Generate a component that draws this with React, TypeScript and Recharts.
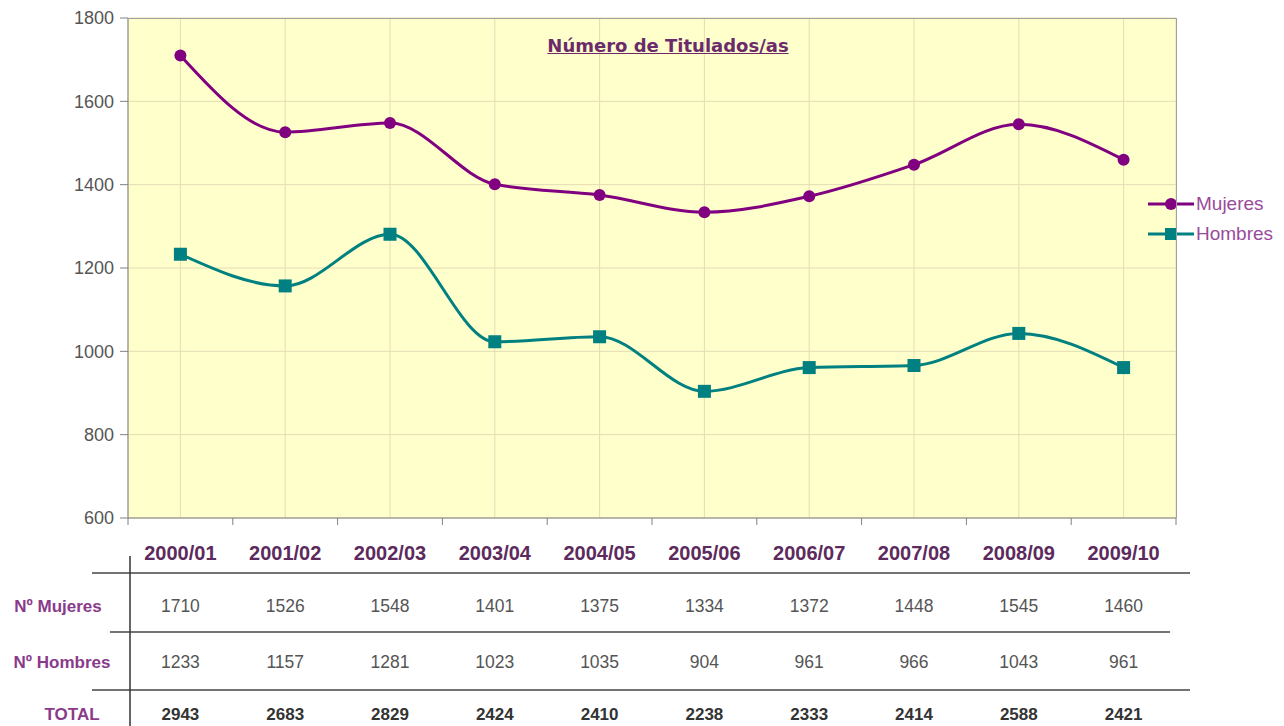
import { LineChart, Line, XAxis, YAxis, CartesianGrid } from "recharts";

const cursos = ["2000/01", "2001/02", "2002/03", "2003/04", "2004/05", "2005/06", "2006/07", "2007/08", "2008/09", "2009/10"];
const mujeres = [1710, 1526, 1548, 1401, 1375, 1334, 1372, 1448, 1545, 1460];
const hombres = [1233, 1157, 1281, 1023, 1035, 904, 961, 966, 1043, 961];
const totales = [2943, 2683, 2829, 2424, 2410, 2238, 2333, 2414, 2588, 2421];
const yTicks = [600, 800, 1000, 1200, 1400, 1600, 1800];

const data = cursos.map((c, i) => ({ curso: c, Mujeres: mujeres[i], Hombres: hombres[i], total: totales[i] }));

const PURPLE = "#800080";
const TEAL = "#008080";
const FONT = "'Liberation Sans', Arial, sans-serif";
const HALF_BAND = 52.4;

function CursoTick(props: any) {
  const { x, y, index, payload } = props;
  const d = data[index];
  return (
    <g fontFamily={FONT}>
      <line x1={x - HALF_BAND} x2={x - HALF_BAND} y1={y} y2={y + 7} stroke="#808080" />
      {index === cursos.length - 1 && (
        <line x1={x + HALF_BAND} x2={x + HALF_BAND} y1={y} y2={y + 7} stroke="#808080" />
      )}
      <text x={x} y={y + 42} textAnchor="middle" fontSize={20} fontWeight="bold" fill="#5c2a5c">
        {payload.value}
      </text>
      <text x={x} y={y + 94} textAnchor="middle" fontSize={17.5} fill="#555">{d.Mujeres}</text>
      <text x={x} y={y + 150} textAnchor="middle" fontSize={17.5} fill="#555">{d.Hombres}</text>
      <text x={x} y={y + 202} textAnchor="middle" fontSize={17} fontWeight="bold" fill="#333">{d.total}</text>
    </g>
  );
}

function SquareDot(props: any) {
  const { cx, cy } = props;
  if (cx == null || cy == null) return null;
  return <rect x={cx - 6.5} y={cy - 6.5} width={13} height={13} fill={TEAL} />;
}

function LegendBox() {
  const items = [
    { name: "Mujeres", color: PURPLE, square: false },
    { name: "Hombres", color: TEAL, square: true },
  ];
  return (
    <div style={{ position: "absolute", left: 1148, top: 189, width: 136, fontFamily: FONT }}>
      {items.map((it) => (
        <div key={it.name} style={{ display: "flex", alignItems: "center", height: 30 }}>
          <svg width={46} height={16}>
            <line x1={0} x2={46} y1={8} y2={8} stroke={it.color} strokeWidth={3} />
            {it.square ? (
              <rect x={17} y={2} width={12} height={12} fill={it.color} />
            ) : (
              <circle cx={23} cy={8} r={6} fill={it.color} />
            )}
          </svg>
          <span style={{ color: "#9a4a9a", fontSize: 19, marginLeft: 2 }}>{it.name}</span>
        </div>
      ))}
    </div>
  );
}

export default function App() {
  return (
    <div style={{ position: "absolute", left: 0, top: 0, width: 1284, height: 726, background: "#fff" }}>
      <LineChart width={1284} height={726} data={data} margin={{ top: 18, right: 108, left: 0, bottom: 0 }}>
        <CartesianGrid stroke="#e4dcb4" fill="#ffffcc" />
        <XAxis
          dataKey="curso"
          height={208}
          padding={{ left: HALF_BAND, right: HALF_BAND }}
          tickLine={false}
          tickSize={0}
          tickMargin={0}
          axisLine={{ stroke: "#808080" }}
          tick={<CursoTick />}
          interval={0}
        />
        <YAxis
          width={128}
          domain={[600, 1800]}
          ticks={yTicks}
          tickSize={8}
          tickMargin={6}
          tickLine={{ stroke: "#808080" }}
          axisLine={{ stroke: "#808080" }}
          tick={{ fill: "#555", fontSize: 18, fontFamily: FONT }}
        />
        <Line
          type="monotone"
          dataKey="Mujeres"
          stroke={PURPLE}
          strokeWidth={3}
          dot={{ r: 6, fill: PURPLE, stroke: PURPLE, strokeWidth: 0 }}
          activeDot={false}
          isAnimationActive={false}
        />
        <Line
          type="monotone"
          dataKey="Hombres"
          stroke={TEAL}
          strokeWidth={3}
          dot={<SquareDot />}
          activeDot={false}
          isAnimationActive={false}
        />
      </LineChart>

      <LegendBox />

      {/* plot frame (top/right) and the data table rules */}
      <svg width={1284} height={726} style={{ position: "absolute", left: 0, top: 0, pointerEvents: "none" }}>
        <line x1={128} x2={1176} y1={18.5} y2={18.5} stroke="#a0a0a0" />
        <line x1={1176.5} x2={1176.5} y1={18} y2={518} stroke="#a0a0a0" />
        <line x1={92} x2={1190} y1={573} y2={573} stroke="#444" strokeWidth={1.5} />
        <line x1={110} x2={1170} y1={632} y2={632} stroke="#444" strokeWidth={1.5} />
        <line x1={92} x2={1190} y1={690} y2={690} stroke="#444" strokeWidth={1.5} />
        <line x1={130} x2={130} y1={556} y2={726} stroke="#333" strokeWidth={1.5} />
        <g fontFamily={FONT} fontWeight="bold" fontSize={17} textAnchor="middle">
          <text x={58} y={612} fill="#8a3a8a">Nº Mujeres</text>
          <text x={62} y={668} fill="#8a3a8a">Nº Hombres</text>
          <text x={72} y={720} fill="#8a3a8a">TOTAL</text>
        </g>
      </svg>

      <div
        style={{
          position: "absolute",
          left: 468,
          top: 35,
          width: 400,
          textAlign: "center",
          fontFamily: "'DejaVu Sans', Verdana, sans-serif",
          fontWeight: "bold",
          fontSize: 18,
          color: "#6b2b6b",
          textDecoration: "underline",
        }}
      >
        Número de Titulados/as
      </div>
    </div>
  );
}
